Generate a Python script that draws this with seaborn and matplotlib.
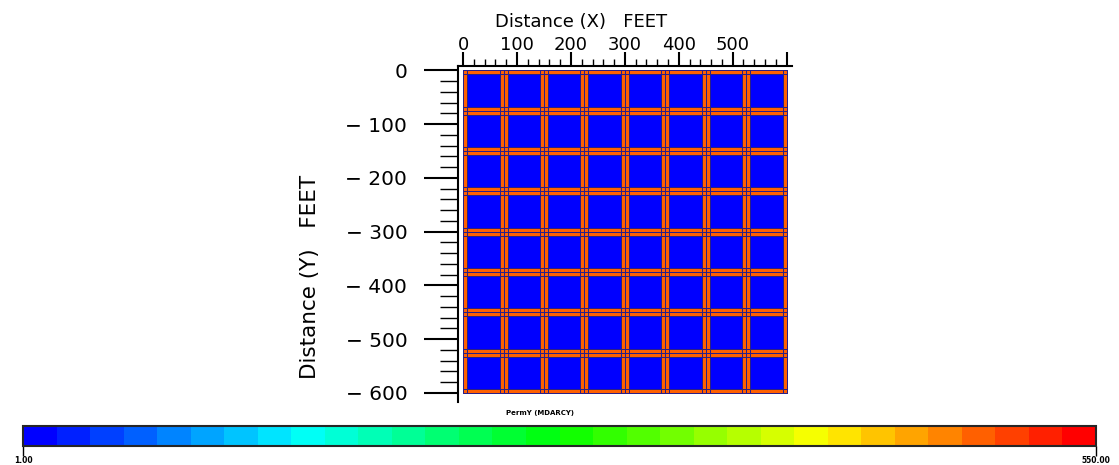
import numpy as np
import matplotlib
matplotlib.use("Agg")
import matplotlib.pyplot as plt
from matplotlib.colors import ListedColormap, BoundaryNorm
from matplotlib.ticker import MultipleLocator, FixedLocator
import seaborn as sns

# ---- data ----
n_blocks = 8
block_edges_ft = [0.0, 7.5, 67.5, 75.0]          # cell edges inside one 75 ft block
block_perm = [[490.0, 490.0, 490.0],
              [490.0, 1.0, 490.0],
              [490.0, 490.0, 490.0]]             # fracture ring / matrix core (mD)
perm_min, perm_max = 1.00, 550.00
n_color_bins = 32
x_ticks = [0, 100, 200, 300, 400, 500, 600]
x_tick_labels = ["0", "100", "200", "300", "400", "500", ""]
y_ticks = [0, -100, -200, -300, -400, -500, -600]
y_tick_labels = ["0", "\u2212 100", "\u2212 200", "\u2212 300", "\u2212 400", "\u2212 500", "\u2212 600"]

sns.set_style("white")
plt.rcParams["font.family"] = ["DejaVu Sans"]
plt.rcParams["text.color"] = "black"
plt.rcParams["xtick.color"] = "black"
plt.rcParams["ytick.color"] = "black"

# grid construction
edges = [0.0]
for b in range(n_blocks):
    for e in block_edges_ft[1:]:
        edges.append(b * block_edges_ft[-1] + e)
x_edges = np.array(edges)
y_edges = -np.array(edges)
perm = np.tile(np.array(block_perm), (n_blocks, n_blocks))

palette = sns.blend_palette(["#0000ff", "#00ffff", "#00ff00", "#ffff00", "#ff0000"],
                            n_colors=n_color_bins)
cmap = ListedColormap(palette)
bounds = np.linspace(perm_min, perm_max, n_color_bins + 1)
norm = BoundaryNorm(bounds, cmap.N)

W, H = 1119, 465
fig = plt.figure(figsize=(W / 100, H / 100), dpi=100)
ax = fig.add_axes([458 / W, 1 - 402 / H, 334 / W, 336 / H])

mesh = ax.pcolormesh(x_edges, y_edges, perm, cmap=cmap, norm=norm,
                     edgecolors="#2b1f86", linewidth=0.6)
ax.set_xlim(-9.5, 610)
ax.set_ylim(-617, 8)

for s in ["right", "bottom"]:
    ax.spines[s].set_visible(False)
for s in ["top", "left"]:
    ax.spines[s].set_linewidth(1.5)
    ax.spines[s].set_color("black")

ax.xaxis.set_ticks_position("top")
ax.xaxis.set_label_position("top")
ax.yaxis.set_ticks_position("left")
ax.set_xticks(x_ticks)
ax.set_xticklabels(x_tick_labels, fontsize=13)
ax.set_yticks(y_ticks)
ax.set_yticklabels(y_tick_labels, fontsize=14.5)
ax.xaxis.set_minor_locator(MultipleLocator(20))
ax.yaxis.set_minor_locator(MultipleLocator(20))
ax.tick_params(axis="x", which="major", direction="out", length=10, width=1.5, pad=-1)
ax.tick_params(axis="x", which="minor", direction="out", length=5, width=1.0)
ax.tick_params(axis="y", which="major", direction="out", length=24.5, width=1.5, pad=12)
ax.tick_params(axis="y", which="minor", direction="out", length=13, width=1.0)

fig.text(581 / W, 1 - 22 / H, "Distance (X)   FEET", fontsize=13, ha="center", va="center")
fig.text(310 / W, 1 - 277 / H, "Distance (Y)   FEET", fontsize=15.5, ha="center", va="center",
         rotation=90)
fig.text(540 / W, 1 - 413 / H, "PermY (MDARCY)", fontsize=5, fontweight="bold",
         ha="center", va="center")

cax = fig.add_axes([23 / W, 1 - 446 / H, 1073 / W, 20 / H])
cb = fig.colorbar(mesh, cax=cax, orientation="horizontal", boundaries=bounds)
cb.outline.set_linewidth(1.5)
cb.set_ticks([perm_min, perm_max])
cb.set_ticklabels([f"{perm_min:.2f}", f"{perm_max:.2f}"])
cax.tick_params(axis="x", which="major", length=7, width=1.0, pad=0, labelsize=5.5)
cax.xaxis.set_minor_locator(FixedLocator([]))
for t in cax.get_xticklabels():
    t.set_fontweight("bold")

fig.savefig("out.png", dpi=100)
